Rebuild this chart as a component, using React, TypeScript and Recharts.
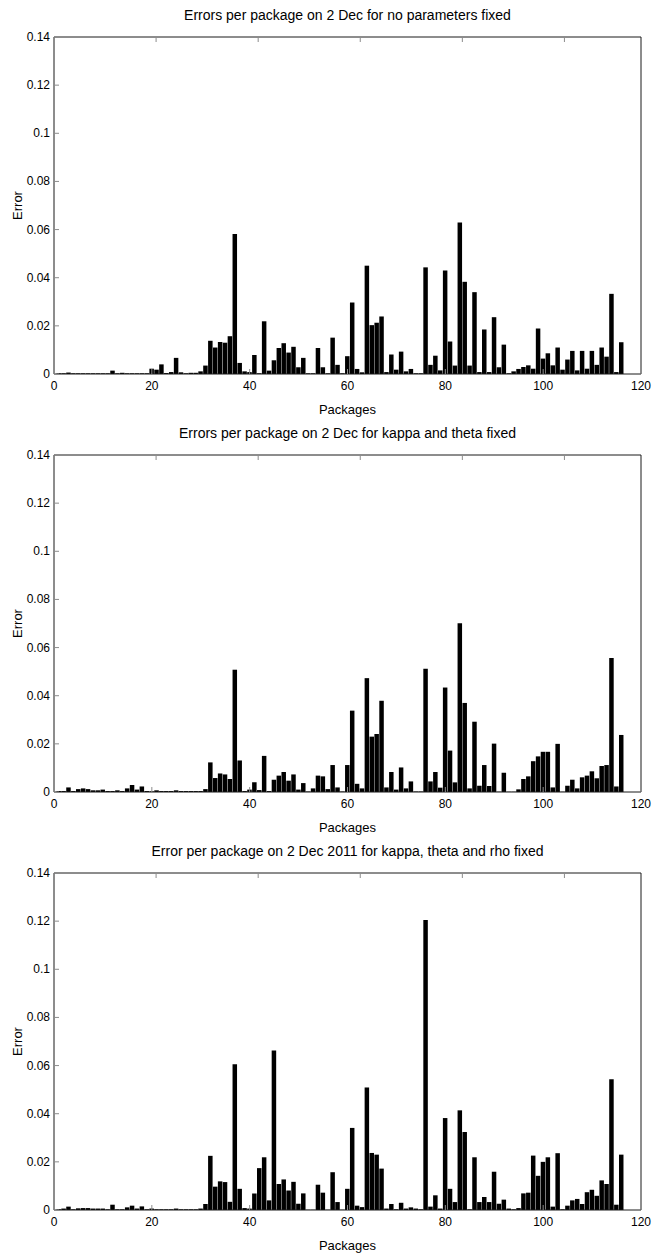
import { BarChart, Bar, XAxis, YAxis } from 'recharts';

const TITLES = [
  'Errors per package on 2 Dec for no parameters fixed',
  'Errors per package on 2 Dec for kappa and theta fixed',
  'Error per package on 2 Dec 2011 for kappa, theta and rho fixed',
];

const NO_FIXED = [
  0.0003, 0.0003, 0.0006, 0.0003, 0.0003, 0.0003, 0.0003, 0.0003, 0.0003, 0.0003,
  0.0003, 0.0014, 0.0003, 0.0005, 0.0003, 0.0003, 0.0003, 0.0003, 0.0003, 0.0022,
  0.0018, 0.004, 0.0004, 0.0008, 0.0067, 0.0007, 0.0003, 0.0005, 0.0005, 0.0011,
  0.0035, 0.0138, 0.011, 0.0133, 0.013, 0.0157, 0.0582, 0.0046, 0.0011, 0.0008,
  0.0079, 0.0003, 0.0219, 0.0014, 0.0057, 0.0108, 0.0128, 0.0089, 0.0113, 0.0028,
  0.0067, 0.0003, 0.0003, 0.0108, 0.0028, 0.0003, 0.0151, 0.0038, 0.0003, 0.0074,
  0.0297, 0.0021, 0.0007, 0.045, 0.0203, 0.0213, 0.0239, 0.0008, 0.0081, 0.0018,
  0.0093, 0.0011, 0.0021, 0.0003, 0.0003, 0.0443, 0.0038, 0.0076, 0.0015, 0.043,
  0.0135, 0.0035, 0.0629, 0.0383, 0.0035, 0.034, 0.0008, 0.0185, 0.0008, 0.0236,
  0.0028, 0.0122, 0.0003, 0.0011, 0.0021, 0.0029, 0.0036, 0.0022, 0.0189, 0.0064,
  0.0086, 0.0036, 0.011, 0.0018, 0.006, 0.0096, 0.0015, 0.0096, 0.0022, 0.0096,
  0.0038, 0.011, 0.0072, 0.0333, 0.0008, 0.0132,
];

const KAPPA_THETA = [
  0.0004, 0.0004, 0.0019, 0.0004, 0.0012, 0.0015, 0.0012, 0.0007, 0.0007, 0.001,
  0.0004, 0.0004, 0.0007, 0.0004, 0.0015, 0.0029, 0.001, 0.0023, 0.0004, 0.0003,
  0.0007, 0.0004, 0.0004, 0.0004, 0.0007, 0.0004, 0.0004, 0.0004, 0.0004, 0.0004,
  0.0012, 0.0123, 0.0058, 0.0077, 0.0073, 0.0054, 0.0508, 0.0131, 0.0004, 0.001,
  0.004, 0.0008, 0.015, 0.0004, 0.0051, 0.0068, 0.0083, 0.0047, 0.0073, 0.001,
  0.0037, 0.0002, 0.0015, 0.0068, 0.0065, 0.0012, 0.0112, 0.0019, 0.0002, 0.0112,
  0.0338, 0.0034, 0.0015, 0.0473, 0.023, 0.0241, 0.0379, 0.0019, 0.0083, 0.001,
  0.0102, 0.0015, 0.0044, 0.0002, 0.0002, 0.0512, 0.0044, 0.0083, 0.0018, 0.0434,
  0.0172, 0.004, 0.0701, 0.037, 0.0015, 0.0292, 0.0026, 0.0112, 0.0025, 0.0201,
  0.0001, 0.008, 0.0001, 0.0001, 0.0011, 0.0054, 0.0065, 0.0128, 0.0148, 0.0167,
  0.0167, 0.0019, 0.02, 0.0001, 0.0026, 0.0051, 0.0015, 0.0061, 0.0068, 0.0086,
  0.0057, 0.0108, 0.0112, 0.0557, 0.0023, 0.0237,
];

const KAPPA_THETA_RHO = [
  0.0003, 0.0006, 0.0014, 0.0003, 0.0007, 0.0008, 0.0008, 0.0006, 0.0006, 0.0006,
  0.0003, 0.0022, 0.0003, 0.0003, 0.0011, 0.0018, 0.0006, 0.0015, 0.0003, 0.0006,
  0.0003, 0.0003, 0.0003, 0.0003, 0.0006, 0.0003, 0.0003, 0.0003, 0.0003, 0.0006,
  0.0025, 0.0225, 0.0097, 0.0119, 0.0116, 0.0034, 0.0606, 0.0088, 0.0008, 0.0006,
  0.0069, 0.0174, 0.0219, 0.004, 0.0663, 0.0108, 0.0127, 0.0081, 0.0117, 0.0026,
  0.0069, 0.0001, 0.0001, 0.0105, 0.0072, 0.0001, 0.0157, 0.0033, 0.0001, 0.0088,
  0.0341, 0.0018, 0.0012, 0.0509, 0.0237, 0.023, 0.0172, 0.0006, 0.0025, 0.0003,
  0.003, 0.0006, 0.0011, 0.0006, 0.0003, 0.1205, 0.0014, 0.0061, 0.0006, 0.0382,
  0.0088, 0.0033, 0.0414, 0.0324, 0.0003, 0.0219, 0.0033, 0.0054, 0.0033, 0.0159,
  0.0026, 0.0043, 0.0006, 0.0003, 0.0008, 0.0069, 0.0072, 0.0226, 0.0142, 0.02,
  0.0219, 0.0014, 0.0236, 0.0003, 0.0018, 0.004, 0.0046, 0.0025, 0.0074, 0.0084,
  0.0059, 0.0123, 0.0108, 0.0543, 0.0022, 0.023,
];

const X_TICKS = [0, 20, 40, 60, 80, 100, 120];
const Y_TICKS = [0, 0.02, 0.04, 0.06, 0.08, 0.1, 0.12, 0.14];

const FONT = "'Liberation Sans', Arial, sans-serif";
const AXIS = '#1a1a1a';
const TICK = '#8c8c8c';

const BottomTick = ({ x, y, payload }: any) => (
  <g>
    <line x1={x} x2={x} y1={y - 7} y2={y - 12} stroke={TICK} />
    <text x={x} y={y} dy="0.71em" textAnchor="middle" fontSize={12} fill="#000" fontFamily={FONT}>
      {payload.value}
    </text>
  </g>
);

// top axis: only inward tick marks, no labels
const TopTick = ({ x, y }: any) => (
  <line x1={x} x2={x} y1={y} y2={y + 5} stroke={TICK} />
);

const LeftTick = ({ x, y, payload }: any) => (
  <g>
    <line x1={x + 4} x2={x + 9} y1={y} y2={y} stroke={TICK} />
    <text x={x} y={y} dy={4} textAnchor="end" fontSize={12} fill="#000" fontFamily={FONT}>
      {String(payload.value)}
    </text>
  </g>
);

const RightTick = ({ x, y }: any) => (
  <line x1={x - 5} x2={x} y1={y} y2={y} stroke={TICK} />
);

const Panel = ({ title, values }: { title: string; values: number[] }) => {
  const data = values.map((v, i) => ({ pkg: i + 1, err: v }));
  return (
    <div style={{ position: 'relative', width: 652, height: 418 }}>
      <div
        style={{
          position: 'absolute',
          top: 6,
          left: 54,
          width: 587,
          textAlign: 'center',
          fontSize: 14,
          lineHeight: '18px',
          fontFamily: FONT,
          color: '#000',
        }}
      >
        {title}
      </div>
      <BarChart width={652} height={418} data={data} margin={{ top: 36, right: 0, bottom: 0, left: 0 }}>
        <XAxis
          dataKey="pkg"
          type="number"
          domain={[0, 120]}
          ticks={X_TICKS}
          interval={0}
          height={44}
          tickSize={0}
          tickMargin={7}
          tick={<BottomTick />}
          axisLine={{ stroke: AXIS }}
          label={{ value: 'Packages', position: 'insideBottom', offset: 4, fontSize: 13, fill: '#000', fontFamily: FONT }}
        />
        <XAxis
          xAxisId="top"
          orientation="top"
          type="number"
          domain={[0, 120]}
          ticks={X_TICKS}
          interval={0}
          height={1}
          tickSize={0}
          tickMargin={0}
          tick={<TopTick />}
          axisLine={{ stroke: AXIS }}
        />
        <YAxis
          type="number"
          domain={[0, 0.14]}
          ticks={Y_TICKS}
          interval={0}
          width={54}
          tickSize={0}
          tickMargin={4}
          tick={<LeftTick />}
          axisLine={{ stroke: AXIS }}
          label={{
            value: 'Error',
            angle: -90,
            position: 'insideLeft',
            offset: 17,
            fontSize: 13,
            fill: '#000',
            fontFamily: FONT,
            style: { textAnchor: 'middle' },
          }}
        />
        <YAxis
          yAxisId="right"
          orientation="right"
          type="number"
          domain={[0, 0.14]}
          ticks={Y_TICKS}
          interval={0}
          width={11}
          tickSize={0}
          tickMargin={0}
          tick={<RightTick />}
          axisLine={{ stroke: AXIS }}
        />
        <Bar dataKey="err" fill="#000" barSize={4.5} isAnimationActive={false} />
      </BarChart>
    </div>
  );
};

export default function App() {
  return (
    <div style={{ position: 'absolute', left: 0, top: 0, width: 652, height: 1256, background: '#fff' }}>
      <Panel title={TITLES[0]} values={NO_FIXED} />
      <Panel title={TITLES[1]} values={KAPPA_THETA} />
      <Panel title={TITLES[2]} values={KAPPA_THETA_RHO} />
    </div>
  );
}
